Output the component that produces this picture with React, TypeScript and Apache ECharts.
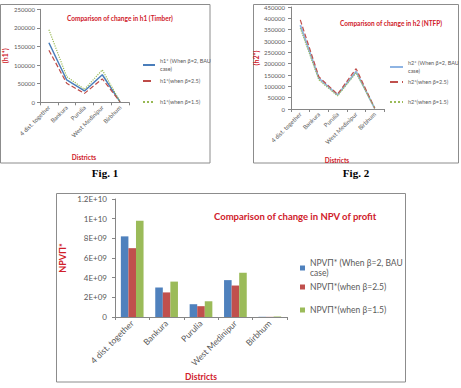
import React, { useEffect, useRef } from "react";
import * as echarts from "echarts";

const districts = ["4 dist. together", "Bankura", "Purulia", "West Medinipur", "Birbhum"];

const h1Names = ["h1* (When β=2, BAU case)", "h1*(when β=2.5)", "h1*(when β=1.5)"];
const h1Bau = [160000, 60000, 30500, 74000, 1200];
const h1Beta25 = [140000, 51000, 24000, 63000, 1000];
const h1Beta15 = [195000, 69000, 35000, 87000, 1400];

const h2Names = ["h2* (When β=2, BAU case)", "h2*(when β=2.5)", "h2*(when β=1.5)"];
const h2Bau = [370000, 135000, 62000, 165000, 3000];
const h2Beta25 = [393000, 142000, 65000, 178000, 3200];
const h2Beta15 = [357000, 128000, 58000, 160000, 2800];

const npvNames = ["NPVΠ* (When β=2, BAU case)", "NPVΠ*(when β=2.5)", "NPVΠ*(when β=1.5)"];
const npvBau = [8.2e9, 3.0e9, 1.3e9, 3.75e9, 0.02e9];
const npvBeta25 = [7.0e9, 2.5e9, 1.1e9, 3.2e9, 0.015e9];
const npvBeta15 = [9.8e9, 3.6e9, 1.6e9, 4.5e9, 0.05e9];

const FONT = "Lato";
const RED_TEXT = "#D0202A";
const GRAY_TEXT = "#595959";
const AXIS_GRAY = "#868686";
const BORDER = "#8C8C8C";

const sci = (v: number) => {
  if (v === 0) return "0";
  const e = Math.floor(Math.log10(v) + 1e-9);
  const m = Math.round((v / Math.pow(10, e)) * 10) / 10;
  return `${m}E+${String(e).padStart(2, "0")}`;
};

const wrapBau = (n: string) => n.replace(" BAU case)", " BAU\ncase)");

function legendEntry(
  name: string,
  left: number,
  centerY: number,
  fontSize: number,
  lineHeight: number,
  itemWidth: number,
  itemHeight: number,
  icon?: string
) {
  const lines = name.includes("BAU") ? 2 : 1;
  const h = Math.max(lines * lineHeight, itemHeight);
  const leg: any = {
    data: [name],
    left,
    top: centerY - h / 2,
    orient: "vertical",
    padding: 0,
    itemWidth,
    itemHeight,
    formatter: wrapBau,
    textStyle: { fontFamily: FONT, fontSize, lineHeight, color: GRAY_TEXT },
    selectedMode: false,
  };
  if (icon) leg.icon = icon;
  else leg.itemStyle = { opacity: 0 };
  return leg;
}

function catAxis(gridIndex: number, fontSize: number, margin: number) {
  return {
    type: "category",
    gridIndex,
    data: districts,
    boundaryGap: true,
    axisLine: { lineStyle: { color: AXIS_GRAY, width: 1 } },
    axisTick: { show: true, length: 3, lineStyle: { color: AXIS_GRAY } },
    axisLabel: {
      rotate: 45,
      interval: 0,
      fontFamily: FONT,
      fontSize,
      color: GRAY_TEXT,
      margin,
    },
  };
}

function valAxis(
  gridIndex: number,
  max: number,
  interval: number,
  name: string,
  nameGap: number,
  fontSize: number,
  margin: number,
  nameSize: number,
  formatter?: (v: number) => string
) {
  return {
    type: "value",
    gridIndex,
    min: 0,
    max,
    interval,
    name,
    nameLocation: "middle",
    nameGap,
    nameRotate: 90,
    nameTextStyle: { fontFamily: FONT, fontSize: nameSize, fontWeight: "bold", color: RED_TEXT },
    axisLine: { show: true, lineStyle: { color: AXIS_GRAY, width: 1 } },
    axisTick: { show: true, length: 3, lineStyle: { color: AXIS_GRAY } },
    splitLine: { show: false },
    axisLabel: {
      fontFamily: FONT,
      fontSize,
      color: GRAY_TEXT,
      margin,
      formatter: formatter || ((v: number) => String(v)),
    },
  };
}

function lineSeries(
  name: string,
  data: number[],
  idx: number,
  color: string,
  type: string,
  width: number,
  z: number
) {
  return {
    type: "line",
    name,
    data,
    xAxisIndex: idx,
    yAxisIndex: idx,
    symbol: "none",
    z,
    lineStyle: { color, type, width },
    itemStyle: { color },
  };
}

function barSeries(name: string, data: number[], color: string) {
  return {
    type: "bar",
    name,
    data,
    xAxisIndex: 2,
    yAxisIndex: 2,
    barGap: "0%",
    barCategoryGap: "34%",
    itemStyle: { color },
  };
}

export default function App() {
  const ref = useRef<HTMLDivElement>(null);

  useEffect(() => {
    if (!ref.current) return;
    const chart = echarts.init(ref.current, null, { renderer: "svg" });

    const option: any = {
      animation: false,
      backgroundColor: "#ffffff",
      title: [
        {
          text: "Comparison of change in h1 (Timber)",
          left: 67,
          top: 15,
          padding: 0,
          textStyle: { fontFamily: FONT, fontSize: 6.5, fontWeight: "bold", color: RED_TEXT },
        },
        {
          text: "Comparison of change in h2 (NTFP)",
          left: 340,
          top: 20,
          padding: 0,
          textStyle: { fontFamily: FONT, fontSize: 6.5, fontWeight: "bold", color: RED_TEXT },
        },
        {
          text: "Comparison of change in NPV of profit",
          left: 214,
          top: 211,
          padding: 0,
          textStyle: { fontFamily: FONT, fontSize: 9.5, fontWeight: "bold", color: RED_TEXT },
        },
      ],
      legend: [
        legendEntry(h1Names[0], 142, 65, 5.5, 8, 12, 1),
        legendEntry(h1Names[1], 142, 81, 5.5, 8, 12, 1),
        legendEntry(h1Names[2], 142, 102, 5.5, 8, 12, 1),
        legendEntry(h2Names[0], 389, 67, 5.5, 8, 13, 1),
        legendEntry(h2Names[1], 389, 82, 5.5, 8, 13, 1),
        legendEntry(h2Names[2], 389, 102, 5.5, 8, 13, 1),
        legendEntry(npvNames[0], 300, 268, 8.5, 10.5, 5, 5, "rect"),
        legendEntry(npvNames[1], 300, 287, 8.5, 10.5, 5, 5, "rect"),
        legendEntry(npvNames[2], 300, 310, 8.5, 10.5, 5, 5, "rect"),
      ],
      grid: [
        { left: 39, top: 9.3, width: 90, height: 93, containLabel: false },
        { left: 291, top: 7, width: 93, height: 102, containLabel: false },
        { left: 115, top: 199, width: 172, height: 118, containLabel: false },
      ],
      xAxis: [catAxis(0, 6, 4), catAxis(1, 6, 4), catAxis(2, 8.5, 5)],
      yAxis: [
        valAxis(0, 250000, 50000, "(h1*)", 32, 6, 5, 7),
        valAxis(1, 450000, 50000, "(h2*)", 32, 6, 6, 7),
        valAxis(2, 1.2e10, 2e9, "NPVΠ*", 48, 8, 8, 9, sci),
      ],
      series: [
        lineSeries(h1Names[0], h1Bau, 0, "#4A7EBB", "solid", 1.5, 3),
        lineSeries(h1Names[1], h1Beta25, 0, "#BE4B48", "dashed", 1.2, 4),
        lineSeries(h1Names[2], h1Beta15, 0, "#98B954", "dotted", 1.2, 5),
        lineSeries(h2Names[0], h2Bau, 1, "#8EB4E3", "solid", 1.8, 3),
        lineSeries(h2Names[1], h2Beta25, 1, "#C0504D", "dashed", 1.2, 4),
        lineSeries(h2Names[2], h2Beta15, 1, "#9BBB59", "dotted", 1.2, 5),
        barSeries(npvNames[0], npvBau, "#4F81BD"),
        barSeries(npvNames[1], npvBeta25, "#C0504D"),
        barSeries(npvNames[2], npvBeta15, "#9BBB59"),
      ],
      graphic: [
        {
          type: "rect",
          shape: { x: 0.5, y: 4.5, width: 209.5, height: 158.5 },
          style: { fill: "none", stroke: BORDER, lineWidth: 1 },
          silent: true,
        },
        {
          type: "rect",
          shape: { x: 253.5, y: 4.5, width: 205, height: 158.5 },
          style: { fill: "none", stroke: BORDER, lineWidth: 1 },
          silent: true,
        },
        {
          type: "rect",
          shape: { x: 56.5, y: 193.5, width: 349, height: 188.5 },
          style: { fill: "none", stroke: BORDER, lineWidth: 1 },
          silent: true,
        },
        {
          type: "text",
          x: 84,
          y: 157,
          style: {
            text: "Districts",
            fontFamily: FONT,
            fontSize: 6.5,
            fontWeight: "bold",
            fill: RED_TEXT,
            align: "center",
            verticalAlign: "middle",
          },
        },
        {
          type: "text",
          x: 337,
          y: 160,
          style: {
            text: "Districts",
            fontFamily: FONT,
            fontSize: 6.5,
            fontWeight: "bold",
            fill: RED_TEXT,
            align: "center",
            verticalAlign: "middle",
          },
        },
        {
          type: "text",
          x: 201,
          y: 377,
          style: {
            text: "Districts",
            fontFamily: FONT,
            fontSize: 8.5,
            fontWeight: "bold",
            fill: RED_TEXT,
            align: "center",
            verticalAlign: "middle",
          },
        },
        {
          type: "text",
          x: 105,
          y: 173,
          style: {
            text: "Fig. 1",
            fontFamily: "Liberation Serif",
            fontSize: 11,
            fontWeight: "bold",
            fill: "#000000",
            align: "center",
            verticalAlign: "middle",
          },
        },
        {
          type: "text",
          x: 356,
          y: 173,
          style: {
            text: "Fig. 2",
            fontFamily: "Liberation Serif",
            fontSize: 11,
            fontWeight: "bold",
            fill: "#000000",
            align: "center",
            verticalAlign: "middle",
          },
        },
      ],
    };

    chart.setOption(option);
    return () => {
      chart.dispose();
    };
  }, []);

  return (
    <div
      ref={ref}
      style={{ position: "fixed", left: 0, top: 0, width: 461, height: 388, background: "#fff" }}
    />
  );
}
